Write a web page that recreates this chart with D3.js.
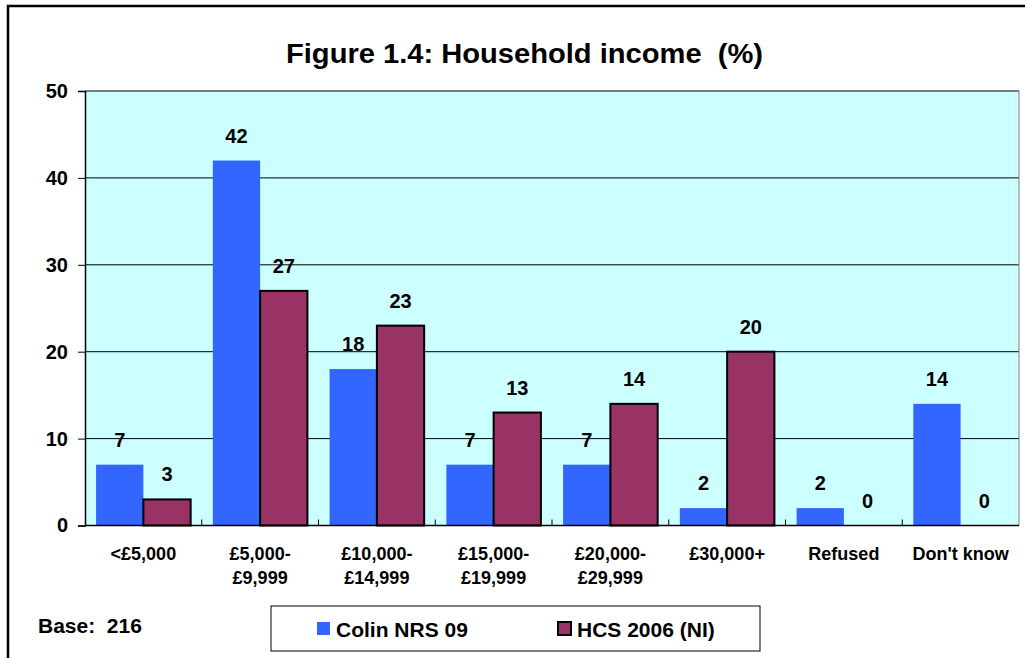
<!DOCTYPE html>
<html lang="en">
<head>
<meta charset="utf-8">
<title>Figure 1.4: Household income (%)</title>
<script src="https://cdn.jsdelivr.net/npm/d3@7"></script>
<style>
  body { margin: 0; background: #fff; }
  text { font-family: "Liberation Sans", Arial, sans-serif; font-weight: bold; white-space: pre; }
</style>
</head>
<body>
<script>
// data
var categories = [["<£5,000"], ["£5,000-", "£9,999"], ["£10,000-", "£14,999"], ["£15,000-", "£19,999"],
  ["£20,000-", "£29,999"], ["£30,000+"], ["Refused"], ["Don't know"]];
var colin = [7, 42, 18, 7, 7, 2, 2, 14];
var hcs = [3, 27, 23, 13, 14, 20, 0, 0];
var seriesNames = ["Colin NRS 09", "HCS 2006 (NI)"];
var yTicks = [0, 10, 20, 30, 40, 50];

var w = 1025, h = 658;
var plotLeft = 85, plotRight = 1019, plotTop = 91, plotBottom = 525.5;

var svg = d3.select("body").append("svg")
  .attr("width", w).attr("height", h);

// outer frame
svg.append("rect")
  .attr("x", 8).attr("y", 6)
  .attr("width", 1030).attr("height", 700)
  .attr("fill", "none").attr("stroke", "#000").attr("stroke-width", 2.5);

svg.append("text")
  .attr("x", 524.5).attr("y", 63)
  .attr("text-anchor", "middle")
  .attr("font-size", "27px")
  .attr("textLength", 477)
  .attr("lengthAdjust", "spacingAndGlyphs")
  .text("Figure 1.4: Household income  (%)");

var idx = d3.range(categories.length);

var xScale = d3.scaleBand()
  .domain(idx)
  .range([plotLeft, plotRight])
  .paddingInner(0.19)
  .paddingOuter(0.095);

var xOuter = d3.scaleBand().domain(idx).range([plotLeft, plotRight]);

var yScale = d3.scaleLinear()
  .domain([0, 50])
  .range([plotBottom, plotTop]);

// plot background
svg.append("rect")
  .attr("x", plotLeft).attr("y", plotTop)
  .attr("width", plotRight - plotLeft).attr("height", plotBottom - plotTop)
  .attr("fill", "#CCFFFF");

// gridlines
svg.selectAll(".grid")
  .data(yTicks.filter(function(d) { return d > 0; }))
  .enter().append("line")
  .attr("x1", plotLeft).attr("x2", plotRight)
  .attr("y1", function(d) { return yScale(d); })
  .attr("y2", function(d) { return yScale(d); })
  .attr("stroke", "#000").attr("stroke-width", 1);

// right edge of plot
svg.append("line")
  .attr("x1", plotRight).attr("x2", plotRight)
  .attr("y1", plotTop).attr("y2", plotBottom)
  .attr("stroke", "#808080").attr("stroke-width", 1);

var bw = xScale.bandwidth() / 2;

svg.selectAll(".colin")
  .data(colin)
  .enter().append("rect")
  .attr("x", function(d, i) { return xScale(i); })
  .attr("y", function(d) { return yScale(d); })
  .attr("width", bw)
  .attr("height", function(d) { return plotBottom - yScale(d); })
  .attr("fill", "#3366FF");

svg.selectAll(".hcs")
  .data(hcs)
  .enter().append("rect")
  .attr("x", function(d, i) { return xScale(i) + bw; })
  .attr("y", function(d) { return yScale(d); })
  .attr("width", bw)
  .attr("height", function(d) { return plotBottom - yScale(d); })
  .attr("fill", "#993366")
  .attr("stroke", function(d) { return d > 0 ? "#000" : "none"; })
  .attr("stroke-width", 2);

// value labels
svg.selectAll(".lblc")
  .data(colin)
  .enter().append("text")
  .attr("x", function(d, i) { return xScale(i) + bw / 2; })
  .attr("y", function(d) { return yScale(d) - 18; })
  .attr("text-anchor", "middle")
  .attr("font-size", "20px")
  .text(function(d) { return d; });

svg.selectAll(".lblh")
  .data(hcs)
  .enter().append("text")
  .attr("x", function(d, i) { return xScale(i) + bw * 1.5; })
  .attr("y", function(d) { return yScale(d) - 18; })
  .attr("text-anchor", "middle")
  .attr("font-size", "20px")
  .text(function(d) { return d; });

// y axis
var yAxis = d3.axisLeft(yScale)
  .tickValues(yTicks)
  .tickSize(7)
  .tickPadding(10);

var gy = svg.append("g")
  .attr("transform", "translate(" + plotLeft + ",0)")
  .call(yAxis);
gy.select(".domain").attr("stroke", "#000").attr("stroke-width", 1.5);
gy.selectAll("text").attr("font-size", "20px").attr("fill", "#000")
  .attr("font-family", "Liberation Sans, Arial, sans-serif");

// x axis line + ticks between categories
svg.append("line")
  .attr("x1", plotLeft).attr("x2", plotRight)
  .attr("y1", plotBottom).attr("y2", plotBottom)
  .attr("stroke", "#000").attr("stroke-width", 1.5);

svg.selectAll(".xtick")
  .data(idx.slice(1))
  .enter().append("line")
  .attr("x1", function(d) { return xOuter(d); })
  .attr("x2", function(d) { return xOuter(d); })
  .attr("y1", plotBottom).attr("y2", plotBottom - 6)
  .attr("stroke", "#000").attr("stroke-width", 1);

// category labels
var cl = svg.selectAll(".cat")
  .data(categories)
  .enter().append("text")
  .attr("text-anchor", "middle")
  .attr("font-size", "18px")
  .attr("y", 560);

cl.selectAll("tspan")
  .data(function(d, i) { return d.map(function(s) { return { s: s, i: i }; }); })
  .enter().append("tspan")
  .attr("x", function(d) { return xOuter(d.i) + xOuter.bandwidth() / 2; })
  .attr("dy", function(d, j) { return j === 0 ? 0 : 24; })
  .text(function(d) { return d.s; });

// base note
svg.append("text")
  .attr("x", 38).attr("y", 633)
  .attr("font-size", "21px")
  .text("Base:  216");

// legend
var legend = svg.append("g");
legend.append("rect")
  .attr("x", 271).attr("y", 606)
  .attr("width", 489).attr("height", 45)
  .attr("fill", "#fff").attr("stroke", "#000").attr("stroke-width", 1);

var legX = [317, 558];
var legColors = ["#3366FF", "#993366"];
seriesNames.forEach(function(name, i) {
  legend.append("rect")
    .attr("x", legX[i]).attr("y", 622)
    .attr("width", 13).attr("height", 13)
    .attr("fill", legColors[i])
    .attr("stroke", i === 1 ? "#000" : "none")
    .attr("stroke-width", 2);
  legend.append("text")
    .attr("x", legX[i] + 19).attr("y", 637)
    .attr("font-size", "21px")
    .text(name);
});
</script>
</body>
</html>
